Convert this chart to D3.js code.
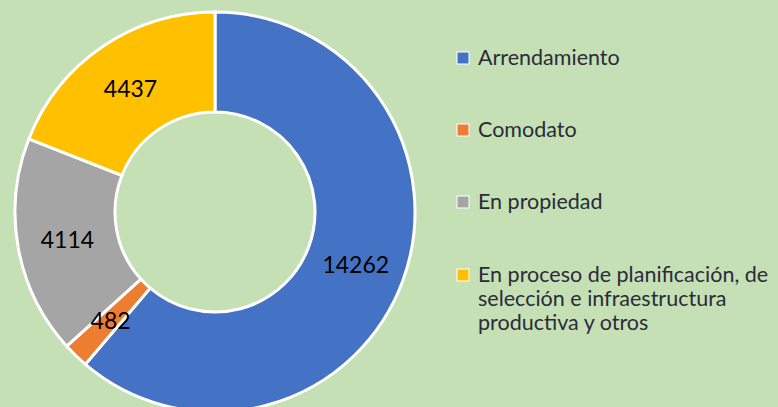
<!DOCTYPE html>
<html>
<head>
<meta charset="utf-8">
<script src="https://cdn.jsdelivr.net/npm/d3@7"></script>
<style>
  html, body { margin: 0; padding: 0; background: #c5e0b4; overflow: hidden; }
</style>
</head>
<body>
<div id="chart"></div>
<script>
// data
const categories = ['Arrendamiento', 'Comodato', 'En propiedad', 'En proceso de planificación, de selección e infraestructura productiva y otros'];
const legendLines = [
  ['Arrendamiento'],
  ['Comodato'],
  ['En propiedad'],
  ['En proceso de planificación, de', 'selección e infraestructura', 'productiva y otros']
];
const values = [14262, 482, 4114, 4437];
const colors = ['#4472c4', '#ed7d31', '#a5a5a5', '#ffc000'];

const width = 778;
const height = 407;
const cx = 215, cy = 212;
const outerR = 200, innerR = 100;

const svg = d3.select('#chart')
  .append('svg')
    .attr('width', width)
    .attr('height', height)
    .style('font-family', 'Lato, "Open Sans", sans-serif');

svg.append('rect')
  .attr('width', width)
  .attr('height', height)
  .attr('fill', '#c5e0b4');

const color = d3.scaleOrdinal().domain(categories).range(colors);

const pie = d3.pie()
  .sort(null)
  .value((d) => d.value);

const data = categories.map((c, i) => ({ name: c, value: values[i] }));
const data_ready = pie(data);

const arc = d3.arc()
  .innerRadius(innerR)
  .outerRadius(outerR);

const g = svg.append('g')
  .attr('transform', 'translate(' + cx + ',' + cy + ')');

g.selectAll('path')
  .data(data_ready)
  .enter()
  .append('path')
    .attr('d', arc)
    .attr('fill', (d) => color(d.data.name))
    .attr('stroke', '#ffffff')
    .style('stroke-width', '3px');

g.selectAll('text.label')
  .data(data_ready)
  .enter()
  .append('text')
    .attr('class', 'label')
    .attr('transform', (d) => 'translate(' + arc.centroid(d) + ')')
    .attr('text-anchor', 'middle')
    .attr('dominant-baseline', 'central')
    .style('font-size', '23px')
    .style('fill', '#000')
    .text((d) => d.data.value);

// legend
const legendY = [57, 129, 201, 274];
const legend = svg.append('g');

legendLines.forEach((lines, i) => {
  legend.append('rect')
    .attr('x', 457)
    .attr('y', legendY[i] - 5)
    .attr('width', 12)
    .attr('height', 12)
    .attr('fill', colors[i])
    .attr('stroke', '#ffffff')
    .attr('stroke-width', 1);

  // one text per line so wrapped lines sit on their own rows
  lines.forEach((line, j) => {
    legend.append('text')
      .attr('x', 478)
      .attr('y', legendY[i] + j * 24)
      .attr('dominant-baseline', 'central')
      .style('font-size', '21.5px')
      .style('fill', '#2b2b3b')
      .text(line);
  });
});
</script>
</body>
</html>
